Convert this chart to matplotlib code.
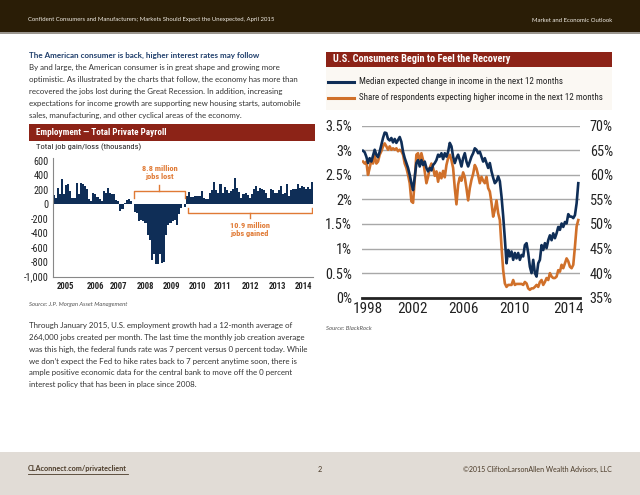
import glob

import matplotlib
matplotlib.use("Agg")
import matplotlib.pyplot as plt
import numpy as np
from matplotlib.patches import Rectangle
from matplotlib.lines import Line2D
from matplotlib.font_manager import FontProperties

W, H = 640, 495

# monthly change in total private payroll (thousands), 2005 -> early 2015
payroll_pre = [124, 92, 220, 138, 344, 138, 262, 275, 184, 83, 92, 298, 138, 298, 275,
               252, 207, 69, 46, 151, 138, 101, 69, 46, 184, 161, 220, 161, 138, 138,
               55, 46, -92, -69, 23, 55, 69, 46, 9]
payroll_loss = [-106, -120, -230, -215, -230, -260, -428, -488, -773, -680, -828, -828,
                -680, -805, -796, -428, -290, -258, -230, -220, -290, -140, -50, 10, -40]
payroll_post = [115, 174, 101, 106, 110, 110, 115, 184, 92, 69, 69, 161, 193, 308, 197,
                161, 275, 151, 239, 193, 161, 184, 216, 358, 230, 174, 92, 138, 161, 129,
                92, 147, 207, 252, 184, 220, 207, 193, 161, 83, 216, 193, 156, 161, 193,
                252, 138, 161, 275, 115, 193, 216, 207, 275, 230, 252, 239, 216, 239, 216,
                312]
payroll_year_labels = ["2005", "2006", "2007", "2008", "2009", "2010", "2011", "2012", "2013", "2014"]
payroll_year_pos = [5.7, 20.1, 31.3, 44.2, 56.6, 68.9, 81.0, 94.3, 107.1, 120.0]
payroll_yticks = [600, 400, 200, 0, -200, -400, -600, -800, -1000]

# BlackRock consumer expectations, sampled about every 1.5 months from 1998
income_median = [2.99, 2.96, 2.87, 2.74, 2.84, 2.77, 2.89, 3.01, 2.91, 2.86, 2.97, 3.11,
                 3.25, 3.36, 3.35, 3.23, 3.20, 3.25, 3.16, 3.23, 3.15, 3.21, 3.27, 3.17,
                 2.97, 2.84, 2.74, 2.64, 2.50, 2.33, 2.19, 2.45, 2.74, 2.80, 2.67, 2.80,
                 2.70, 2.77, 2.64, 2.57, 2.64, 2.59, 2.70, 2.74, 2.80, 2.91, 2.87, 2.94,
                 2.82, 2.94, 2.87, 2.97, 3.15, 3.08, 2.87, 2.74, 2.84, 2.91, 2.80, 2.67,
                 2.84, 2.94, 2.77, 2.67, 2.77, 2.87, 2.94, 3.04, 3.01, 2.94, 2.97, 2.87,
                 2.77, 2.84, 2.74, 2.64, 2.74, 2.57, 2.44, 2.33, 2.37, 2.47, 2.37, 2.06,
                 1.66, 1.20, 0.70, 0.97, 0.84, 0.94, 0.77, 0.91, 0.80, 0.91, 0.77, 0.87,
                 0.84, 1.07, 1.11, 0.91, 0.63, 0.50, 0.77, 0.50, 0.43, 0.70, 0.77, 1.07,
                 0.97, 1.11, 1.01, 1.17, 1.27, 1.17, 1.31, 1.21, 1.31, 1.44, 1.38, 1.51,
                 1.44, 1.54, 1.51, 1.70, 1.65, 1.65, 1.62, 1.68, 1.92, 2.33]
income_share = [62.7, 62.3, 62.7, 60.0, 61.4, 63.0, 62.3, 64.1, 62.3, 62.7, 64.1, 64.8,
                65.8, 66.4, 65.8, 65.1, 65.8, 65.1, 65.4, 65.1, 65.4, 64.8, 65.1, 64.8,
                64.1, 62.3, 61.4, 60.0, 58.3, 54.6, 54.3, 59.0, 64.1, 64.4, 62.3, 64.4,
                63.0, 60.7, 58.3, 59.6, 61.4, 62.3, 61.4, 59.8, 60.7, 58.6, 60.4, 59.3,
                60.8, 59.5, 62.0, 63.4, 64.1, 63.0, 61.4, 57.3, 54.0, 58.0, 59.5, 58.8,
                60.5, 59.5, 57.3, 54.8, 57.3, 59.0, 60.2, 62.0, 61.3, 59.9, 58.3, 59.6,
                58.8, 58.3, 59.6, 57.3, 56.6, 54.3, 51.5, 52.9, 54.8, 52.2, 50.8, 45.4,
                40.6, 37.9, 37.2, 37.6, 37.6, 37.6, 38.6, 37.6, 37.8, 37.8, 37.8, 37.8,
                37.6, 38.2, 37.9, 36.9, 36.6, 36.9, 36.9, 37.2, 37.6, 37.2, 38.2, 38.6,
                37.6, 38.2, 39.0, 38.6, 40.0, 39.3, 39.0, 39.0, 39.3, 40.6, 40.3, 41.7,
                41.0, 42.0, 43.0, 42.4, 41.3, 41.0, 41.7, 45.4, 49.5, 50.8]
income_start = 1998.1
income_step = 0.1292
income_year_labels = ["1998", "2002", "2006", "2010", "2014"]
income_year_pos = [1998.5, 2001.9, 2005.9, 2009.8, 2014.0]

NAVY = "#0f2e57"
ORANGE = "#d0702a"
BRACKET = "#e07a35"
RED = "#8c2317"
HEADER = "#2a1d06"
FOOTER = "#e1dcd6"
TEXT = "#333333"

BODY = ["Lato", "DejaVu Sans"]


# the charts use a condensed grotesque; look for any narrow face on the box
def find_file(names):
    for name in names:
        for root in ("/usr/share/fonts", "/usr/local/share/fonts"):
            hits = sorted(glob.glob(f"{root}/**/{name}", recursive=True))
            if hits:
                return hits[0]
    return None


narrow_reg = find_file(["RobotoCondensed-Regular.ttf", "LiberationSansNarrow-Regular.ttf",
                        "DejaVuSansCondensed.ttf", "OpenSans-CondLight.ttf"])
narrow_bold = find_file(["RobotoCondensed-Bold.ttf", "LiberationSansNarrow-Bold.ttf",
                         "DejaVuSansCondensed-Bold.ttf", "OpenSans-CondBold.ttf"])
NARROW_SCALE = 1.0 if narrow_reg else 0.86


def nf(size, bold=False):
    path = narrow_bold if bold else narrow_reg
    if path:
        return FontProperties(fname=path, size=size)
    return FontProperties(family="Liberation Sans", weight="bold" if bold else "normal",
                          size=size * NARROW_SCALE)


def fx(x):
    return x / W


def fy(y):
    return 1 - y / H


def box(x0, y0, x1, y1, color):
    fig.add_artist(Rectangle((fx(x0), fy(y1)), fx(x1) - fx(x0), fy(y0) - fy(y1),
                             transform=fig.transFigure, color=color, lw=0, zorder=0))


fig = plt.figure(figsize=(W / 100, H / 100), dpi=100)
fig.patch.set_facecolor("white")

# header / footer bands
box(0, 0, 640, 32, HEADER)
box(0, 32, 640, 34, "#9a958e")
fig.text(fx(28), fy(20), "Confident Consumers and Manufacturers; Markets Should Expect the Unexpected, April 2015",
         color="#f0ece4", fontsize=4.3, family=BODY, va="center")
fig.text(fx(612), fy(20), "Market and Economic Outlook", color="#f0ece4", fontsize=4.3,
         family=BODY, va="center", ha="right")

box(0, 452, 640, 495, FOOTER)
fig.text(fx(28), fy(469), "CLAconnect.com/privateclient", color="#4a3a28", fontsize=5.2,
         family=BODY, weight="bold", va="center")
fig.add_artist(Line2D([fx(28), fx(128)], [fy(473.5), fy(473.5)], transform=fig.transFigure,
                      color="#4a3a28", lw=0.6))
fig.text(fx(320), fy(469), "2", color="#4a3a28", fontsize=5.2, family=BODY, va="center", ha="center")
fig.text(fx(612), fy(469), "\u00a92015 CliftonLarsonAllen Wealth Advisors, LLC", color="#4a3a28",
         fontsize=5.0, family=BODY, va="center", ha="right")

# left column text
fig.text(fx(29), fy(55), "The American consumer is back, higher interest rates may follow",
         color="#1f3e6b", fontsize=5.75, family=BODY, weight="bold", va="center")
para1 = ["By and large, the American consumer is in great shape and growing more",
         "optimistic. As illustrated by the charts that follow, the economy has more than",
         "recovered the jobs lost during the Great Recession. In addition, increasing",
         "expectations for income growth are supporting new housing starts, automobile",
         "sales, manufacturing, and other cyclical areas of the economy."]
for i, line in enumerate(para1):
    fig.text(fx(29), fy(67 + 12 * i), line, color=TEXT, fontsize=5.7, family=BODY, va="center")

para2 = ["Through January 2015, U.S. employment growth had a 12-month average of",
         "264,000 jobs created per month. The last time the monthly job creation average",
         "was this high, the federal funds rate was 7 percent versus 0 percent today. While",
         "we don\u2019t expect the Fed to hike rates back to 7 percent anytime soon, there is",
         "ample positive economic data for the central bank to move off the 0 percent",
         "interest policy that has been in place since 2008."]
for i, line in enumerate(para2):
    fig.text(fx(29), fy(325 + 12 * i), line, color=TEXT, fontsize=5.7, family=BODY, va="center")

# ---- left chart: employment ----
box(29, 124, 315, 141, RED)
fig.text(fx(36), fy(132.5), "Employment \u2014 Total Private Payroll", color="white",
         fontproperties=nf(6.6, True), va="center")
fig.text(fx(36), fy(147), "Total job gain/loss (thousands)", color="#222222",
         fontproperties=nf(6.1), va="center")

payroll = payroll_pre + payroll_loss + payroll_post
n = len(payroll)
ax1 = fig.add_axes([fx(52.7), fy(276.7), fx(313.3) - fx(52.7), fy(158) - fy(276.7)])
ax1.bar(np.arange(n), payroll, width=1.0, color=NAVY, linewidth=0)
ax1.set_xlim(-0.5, n - 0.5)
ax1.set_ylim(-1000, 641)
ax1.set_yticks(payroll_yticks)
ax1.set_yticklabels([f"{v:,}" for v in payroll_yticks], fontproperties=nf(7.3), color="#222222")
ax1.set_xticks(payroll_year_pos)
ax1.set_xticklabels(payroll_year_labels, fontproperties=nf(6.2, True), color="#222222")
ax1.tick_params(axis="both", length=0)
ax1.tick_params(axis="y", pad=3)
ax1.tick_params(axis="x", pad=4)
for s in ["top", "right"]:
    ax1.spines[s].set_visible(False)
for s in ["left", "bottom"]:
    ax1.spines[s].set_color("#888888")
    ax1.spines[s].set_linewidth(0.8)

n_pre = len(payroll_pre)
n_loss = len(payroll_loss)
# bracket: jobs lost
lx0, lx1 = n_pre - 0.4, n_pre + n_loss - 1.2
lmid = (lx0 + lx1) / 2
ax1.plot([lx0, lx0, lx1, lx1], [84, 189, 189, 84], color=BRACKET, lw=1)
ax1.plot([lmid, lmid], [189, 268], color=BRACKET, lw=1)
ax1.text(lmid, 490, "8.8 million", color=BRACKET, fontproperties=nf(6.0, True),
         ha="center", va="center")
ax1.text(lmid, 383, "jobs lost", color=BRACKET, fontproperties=nf(6.0, True),
         ha="center", va="center")
# bracket: jobs gained
gx0, gx1 = n_pre + n_loss + 0.4, n - 1.3
gmid = (gx0 + gx1) / 2
ax1.plot([gx0, gx0, gx1, gx1], [-54, -123, -123, -54], color=BRACKET, lw=1)
ax1.plot([gmid, gmid], [-123, -192], color=BRACKET, lw=1)
ax1.text(gmid, -299, "10.9 million", color=BRACKET, fontproperties=nf(6.0, True),
         ha="center", va="center")
ax1.text(gmid, -405, "jobs gained", color=BRACKET, fontproperties=nf(6.0, True),
         ha="center", va="center")

fig.text(fx(29), fy(304), "Source: J.P. Morgan Asset Management", color="#555555", fontsize=4.3,
         family=BODY, style="italic", va="center")

# ---- right chart: income expectations ----
box(326, 52, 612, 67, RED)
fig.text(fx(333), fy(59.5), "U.S. Consumers Begin to Feel the Recovery", color="white",
         fontproperties=nf(7.4, True), va="center")
box(326, 67, 612, 110, "#fbf8f3")
fig.add_artist(Line2D([fx(328), fx(354)], [fy(82), fy(82)], transform=fig.transFigure, color=NAVY, lw=2.2))
fig.add_artist(Line2D([fx(328), fx(354)], [fy(98), fy(98)], transform=fig.transFigure, color=ORANGE, lw=2.2))
fig.text(fx(359), fy(82), "Median expected change in income in the next 12 months", color="#222222",
         fontproperties=nf(6.5), va="center")
fig.text(fx(359), fy(98), "Share of respondents expecting higher income in the next 12 months",
         color="#222222", fontproperties=nf(6.5), va="center")

years = income_start + income_step * np.arange(len(income_median))
ax2 = fig.add_axes([fx(361.7), fy(297.7), fx(580) - fx(361.7), fy(125.7) - fy(297.7)])
ax3 = ax2.twinx()
ax3.plot(years, income_share, color=ORANGE, lw=1.9, solid_joinstyle="round")
ax2.plot(years, income_median, color=NAVY, lw=1.9, solid_joinstyle="round")
ax2.set_zorder(ax3.get_zorder() + 1)
ax2.patch.set_visible(False)
ax2.set_xlim(1998.0, 2014.9)
ax2.set_ylim(0, 3.5)
ax3.set_ylim(35, 70)
left_ticks = [0, 0.5, 1, 1.5, 2, 2.5, 3, 3.5]
ax2.set_yticks(left_ticks)
ax2.set_yticklabels(["0%", "0.5%", "1%", "1.5%", "2%", "2.5%", "3%", "3.5%"],
                    fontproperties=nf(10.3), color="#222222")
ax3.set_yticks([35, 40, 45, 50, 55, 60, 65, 70])
ax3.set_yticklabels(["35%", "40%", "45%", "50%", "55%", "60%", "65%", "70%"],
                    fontproperties=nf(10.3), color="#222222")
ax2.set_xticks(income_year_pos)
ax2.set_xticklabels(income_year_labels, fontproperties=nf(11), color="#222222")
for a in (ax2, ax3):
    a.tick_params(length=0)
    for s in a.spines.values():
        s.set_visible(False)
ax2.tick_params(axis="y", pad=7)
ax3.tick_params(axis="y", pad=7)
ax2.tick_params(axis="x", pad=3)
for v in left_ticks[1:]:
    ax3.axhline(35 + 10 * v, color="#a8a8a8", lw=1.0, zorder=0)
ax2.axhline(0, color="#222222", lw=2.0, clip_on=False)

fig.text(fx(326), fy(328), "Source: BlackRock", color="#555555", fontsize=4.3, family=BODY,
         style="italic", va="center")

fig.savefig("out.png", dpi=100)
